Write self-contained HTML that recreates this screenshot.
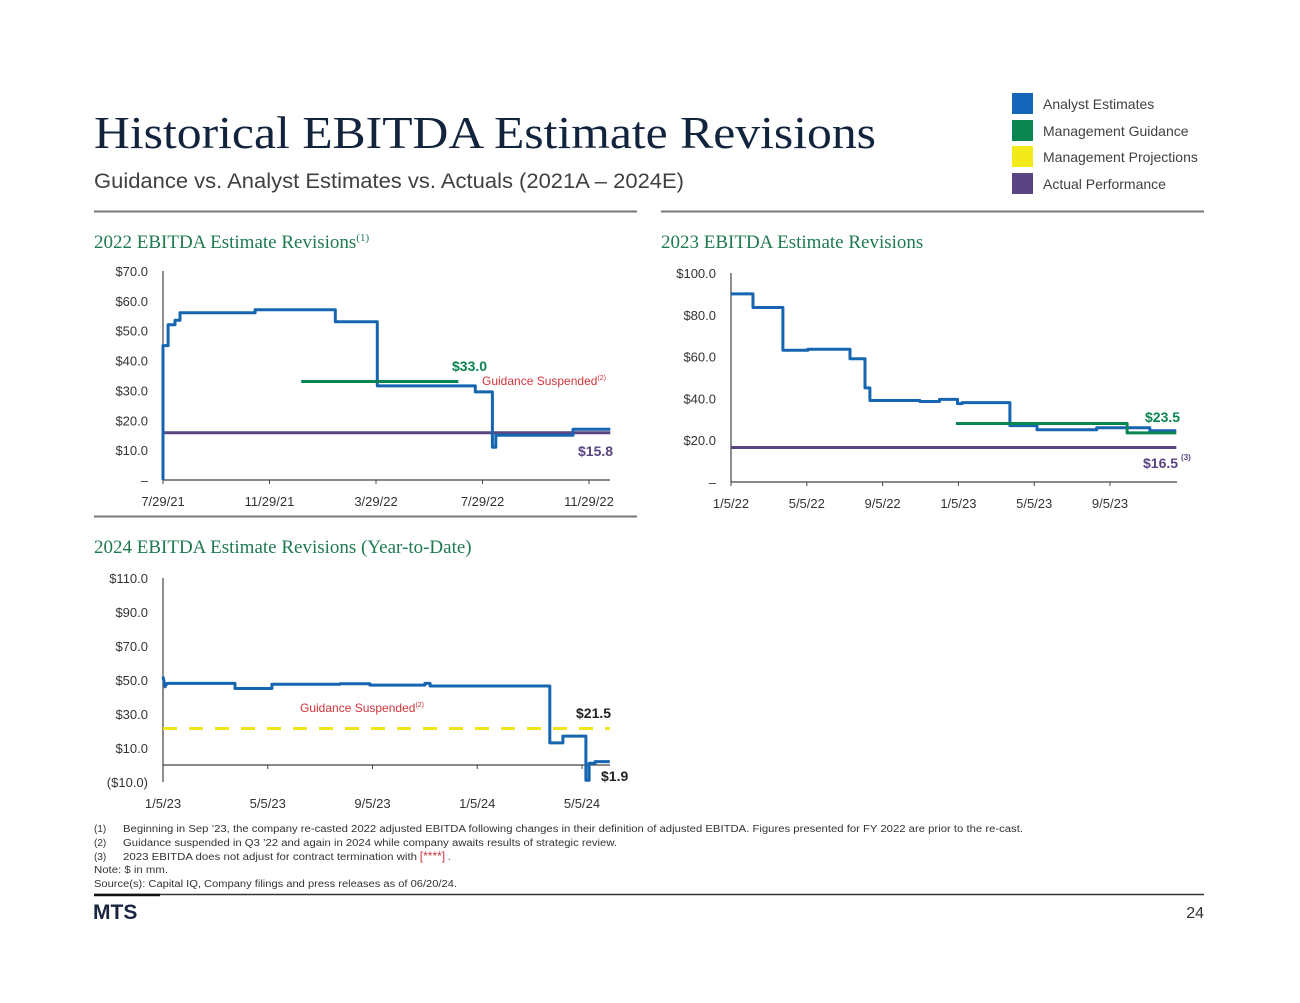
<!DOCTYPE html>
<html><head><meta charset="utf-8"><style>
html,body{margin:0;padding:0;background:#fff;}
svg{display:block;font-family:"Liberation Sans",sans-serif;}
</style></head><body>
<svg id="page" width="1300" height="1003" viewBox="0 0 1300 1003">
<text x="94" y="148" font-family="Liberation Serif,serif" font-size="46" fill="#12233d" textLength="782" lengthAdjust="spacingAndGlyphs">Historical EBITDA Estimate Revisions</text>
<text x="94" y="188" font-size="21" fill="#404040" textLength="590" lengthAdjust="spacingAndGlyphs">Guidance vs. Analyst Estimates vs. Actuals (2021A – 2024E)</text>
<g font-size="14" fill="#404040">
<rect x="1012" y="93" width="21" height="21" fill="#1565b8"/>
<text x="1043" y="109">Analyst Estimates</text>
<rect x="1012" y="120" width="21" height="21" fill="#0a8450"/>
<text x="1043" y="136">Management Guidance</text>
<rect x="1012" y="146" width="21" height="21" fill="#f2ea1a"/>
<text x="1043" y="162">Management Projections</text>
<rect x="1012" y="173" width="21" height="21" fill="#5a4482"/>
<text x="1043" y="189">Actual Performance</text>
</g>
<line x1="94" y1="211.5" x2="637" y2="211.5" stroke="#777" stroke-width="2"/>
<line x1="661" y1="211.5" x2="1204" y2="211.5" stroke="#777" stroke-width="2"/>
<line x1="94" y1="516.5" x2="637" y2="516.5" stroke="#777" stroke-width="2"/>
<text x="94" y="248" font-family="Liberation Serif,serif" font-size="19" fill="#1e7a4f">2022 EBITDA Estimate Revisions<tspan font-size="11" dy="-7">(1)</tspan></text>
<text x="661" y="248" font-family="Liberation Serif,serif" font-size="19" fill="#1e7a4f">2023 EBITDA Estimate Revisions</text>
<text x="94" y="553" font-family="Liberation Serif,serif" font-size="19" fill="#1e7a4f">2024 EBITDA Estimate Revisions (Year-to-Date)</text>
<g id="charts"></g>
<g font-size="10" fill="#333">
<text x="94" y="832">(1)</text><text x="123" y="832" textLength="900" lengthAdjust="spacingAndGlyphs">Beginning in Sep ’23, the company re-casted 2022 adjusted EBITDA following changes in their definition of adjusted EBITDA. Figures presented for FY 2022 are prior to the re-cast.</text>
<text x="94" y="846">(2)</text><text x="123" y="846" textLength="494" lengthAdjust="spacingAndGlyphs">Guidance suspended in Q3 ’22 and again in 2024 while company awaits results of strategic review.</text>
<text x="94" y="860">(3)</text><text x="123" y="860"><tspan textLength="294" lengthAdjust="spacingAndGlyphs">2023 EBITDA does not adjust for contract termination with</tspan> <tspan fill="#d0343a" font-size="12">[****]</tspan>        .</text>
<text x="94" y="873" textLength="74" lengthAdjust="spacingAndGlyphs">Note: $ in mm.</text>
<text x="94" y="887" textLength="363" lengthAdjust="spacingAndGlyphs">Source(s): Capital IQ, Company filings and press releases as of 06/20/24.</text>
</g>
<line x1="94" y1="894.5" x2="1204" y2="894.5" stroke="#333" stroke-width="1.5"/>
<line x1="94" y1="895" x2="160" y2="895" stroke="#111" stroke-width="2.5"/>
<text x="93" y="919" font-size="21" font-weight="bold" fill="#1a2540">MTS</text>
<text x="1204" y="918" font-size="16" fill="#333" text-anchor="end">24</text>
</svg>
<script>
// Chart 1 (months since 7/29/21)
const c1Ticks = ["7/29/21","11/29/21","3/29/22","7/29/22","11/29/22"];
const c1YTicks = ["–","$10.0","$20.0","$30.0","$40.0","$50.0","$60.0","$70.0"];
const c1AnalystX = [0,0,0.19,0.19,0.45,0.45,0.64,0.64,3.46,3.46,6.47,6.47,8.05,8.05,11.73,11.73,12.37,12.37,12.5,12.5,15.4,15.4,16.8];
const c1AnalystY = [0,45,45,52,52,53.5,53.5,56,56,57,57,53,53,31.5,31.5,29.5,29.5,11,11,15,15,17,17];
const c1GuidX = [5.19,11.09];
const c1GuidY = [33,33];
const c1ActualX = [0,16.8];
const c1ActualY = [15.8,15.8];
// Chart 2 (months since 1/5/22)
const c2Ticks = ["1/5/22","5/5/22","9/5/22","1/5/23","5/5/23","9/5/23"];
const c2YTicks = ["–","$20.0","$40.0","$60.0","$80.0","$100.0"];
const c2AnalystX = [0,1.16,1.16,2.74,2.74,4.06,4.06,6.28,6.28,7.07,7.07,7.33,7.33,9.97,9.97,11.0,11.0,11.95,11.95,12.2,12.2,14.72,14.72,16.15,16.15,19.3,19.3,22.1,22.1,23.5];
const c2AnalystY = [90,90,83.5,83.5,63,63,63.5,63.5,59,59,45,45,39,39,38.5,38.5,39.5,39.5,37.5,37.5,38,38,27,27,25,25,26,26,24.5,24.5];
const c2GuidX = [11.87,20.9,20.9,23.5];
const c2GuidY = [28,28,23.5,23.5];
const c2ActualX = [0,23.5];
const c2ActualY = [16.5,16.5];
// Chart 3 (months since 1/5/23)
const c3Ticks = ["1/5/23","5/5/23","9/5/23","1/5/24","5/5/24"];
const c3YTicks = ["($10.0)","$10.0","$30.0","$50.0","$70.0","$90.0","$110.0"];
const c3AnalystX = [0,0.08,0.08,0.15,0.15,2.75,2.75,4.16,4.16,6.76,6.76,7.9,7.9,10.0,10.0,10.2,10.2,14.77,14.77,15.27,15.27,16.15,16.15,16.27,16.27,16.5,16.5,17.06];
const c3AnalystY = [52,46,46,48,48,48,45,45,47.5,47.5,47.8,47.8,47,47,48,48,46.5,46.5,13,13,17,17,-9,-9,1,1,2,2];
const c3ProjX = [0,17.06];
const c3ProjY = [21.5,21.5];

const NS="http://www.w3.org/2000/svg";
const root=document.getElementById('charts');
function mk(tag,attrs,parent){const e=document.createElementNS(NS,tag);for(const k in attrs)e.setAttribute(k,attrs[k]);(parent||root).appendChild(e);return e;}
function line(ax,xs,ys,color,w,name,dash){
  const d=xs.map((x,i)=>(i?'L':'M')+ax.sx(x).toFixed(1)+','+ax.sy(ys[i]).toFixed(1)).join('');
  const p=mk('path',{d:d,fill:'none',stroke:color,'stroke-width':w,'stroke-linejoin':'round'});
  if(dash)p.setAttribute('stroke-dasharray',dash);
  
  
}
function frame(ax,x0,x1,yTop,yBase,ticks,mPerTick,ylabels,yvals,yAxisBottom,labelX,tickLabelY,pre){
  const g=mk('g',{});
  
  
  mk('line',{x1:x0,y1:yTop,x2:x0,y2:yAxisBottom,stroke:'#444','stroke-width':1.2},g);
  mk('line',{x1:x0,y1:yBase,x2:x1,y2:yBase,stroke:'#444','stroke-width':1.2},g);
  ticks.forEach((t,i)=>{const x=ax.sx(i*mPerTick);
    mk('line',{x1:x,y1:yBase,x2:x,y2:yBase+4,stroke:'#444'},g);
    const tx=mk('text',{x:x,y:tickLabelY,'font-size':13,fill:'#333','text-anchor':'middle'},g);tx.textContent=t;
    
    });
  ylabels.forEach((l,i)=>{const tx=mk('text',{x:labelX,y:ax.sy(yvals[i])+5,'font-size':13,fill:'#333','text-anchor':'end'},g);tx.textContent=l;
    
    });
}
function label(x,y,txt,color,size,bold,name,anchor){
  const t=mk('text',{x:x,y:y,'font-size':size,fill:color,'font-weight':bold?'bold':'normal','text-anchor':anchor||'start'});t.textContent=txt;
  
  
  return t;
}
const BLUE='#1565b0',GREEN='#0a8450',PURPLE='#5a4482',YEL='#f0e41a';
// chart1
{const a={sx:m=>163+(589-163)*m/16,sy:v=>480-(480-271)*v/70};
 frame(a,163,610,271,480,c1Ticks,4,c1YTicks,[0,10,20,30,40,50,60,70],480,148,506,'chart1');
 line(a,c1ActualX,c1ActualY,PURPLE,3,'chart1-actual-line');
 line(a,c1AnalystX,c1AnalystY,BLUE,3,'chart1-analyst-line');
 line(a,c1GuidX,c1GuidY,GREEN,3,'chart1-guidance-line');
 label(452,371,'$33.0',GREEN,14,true,'chart1-guidance-value');
 const g=label(482,385,'Guidance Suspended','#d0343a',12,false,'chart1-guidance-suspended');
 const s=mk('tspan',{'font-size':7,dy:-5},g);s.textContent='(2)';
 label(578,456,'$15.8',PURPLE,14,true,'chart1-actual-value');}
// chart2
{const a={sx:m=>731+(1110-731)*m/20,sy:v=>482-(482-273)*v/100};
 frame(a,731,1177,273,482,c2Ticks,4,c2YTicks,[0,20,40,60,80,100],482,716,508,'chart2');
 line(a,c2ActualX,c2ActualY,PURPLE,3,'chart2-actual-line');
 line(a,c2AnalystX,c2AnalystY,BLUE,3,'chart2-analyst-line');
 line(a,c2GuidX,c2GuidY,GREEN,3,'chart2-guidance-line');
 label(1145,422,'$23.5',GREEN,14,true,'chart2-guidance-value');
 const t=label(1143,468,'$16.5',PURPLE,14,true,'chart2-actual-value');
 const s=mk('tspan',{'font-size':8,dy:-8,dx:3},t);s.textContent='(3)';}
// chart3
{const a={sx:m=>163+(582-163)*m/16,sy:v=>765-(765-578)*v/110};
 frame(a,163,610,578,765,c3Ticks,4,c3YTicks,[-10,10,30,50,70,90,110],782,148,808,'chart3');
 line(a,c3ProjX,c3ProjY,YEL,3,'chart3-projection-line','14,12');
 line(a,c3AnalystX,c3AnalystY,BLUE,3,'chart3-analyst-line');
 const g=label(300,712,'Guidance Suspended','#d0343a',12,false,'chart3-guidance-suspended');
 const s=mk('tspan',{'font-size':7,dy:-5},g);s.textContent='(2)';
 label(576,718,'$21.5','#222',14,true,'chart3-projection-value');
 label(601,781,'$1.9','#222',14,true,'chart3-analyst-value');}
</script>
</body></html>
